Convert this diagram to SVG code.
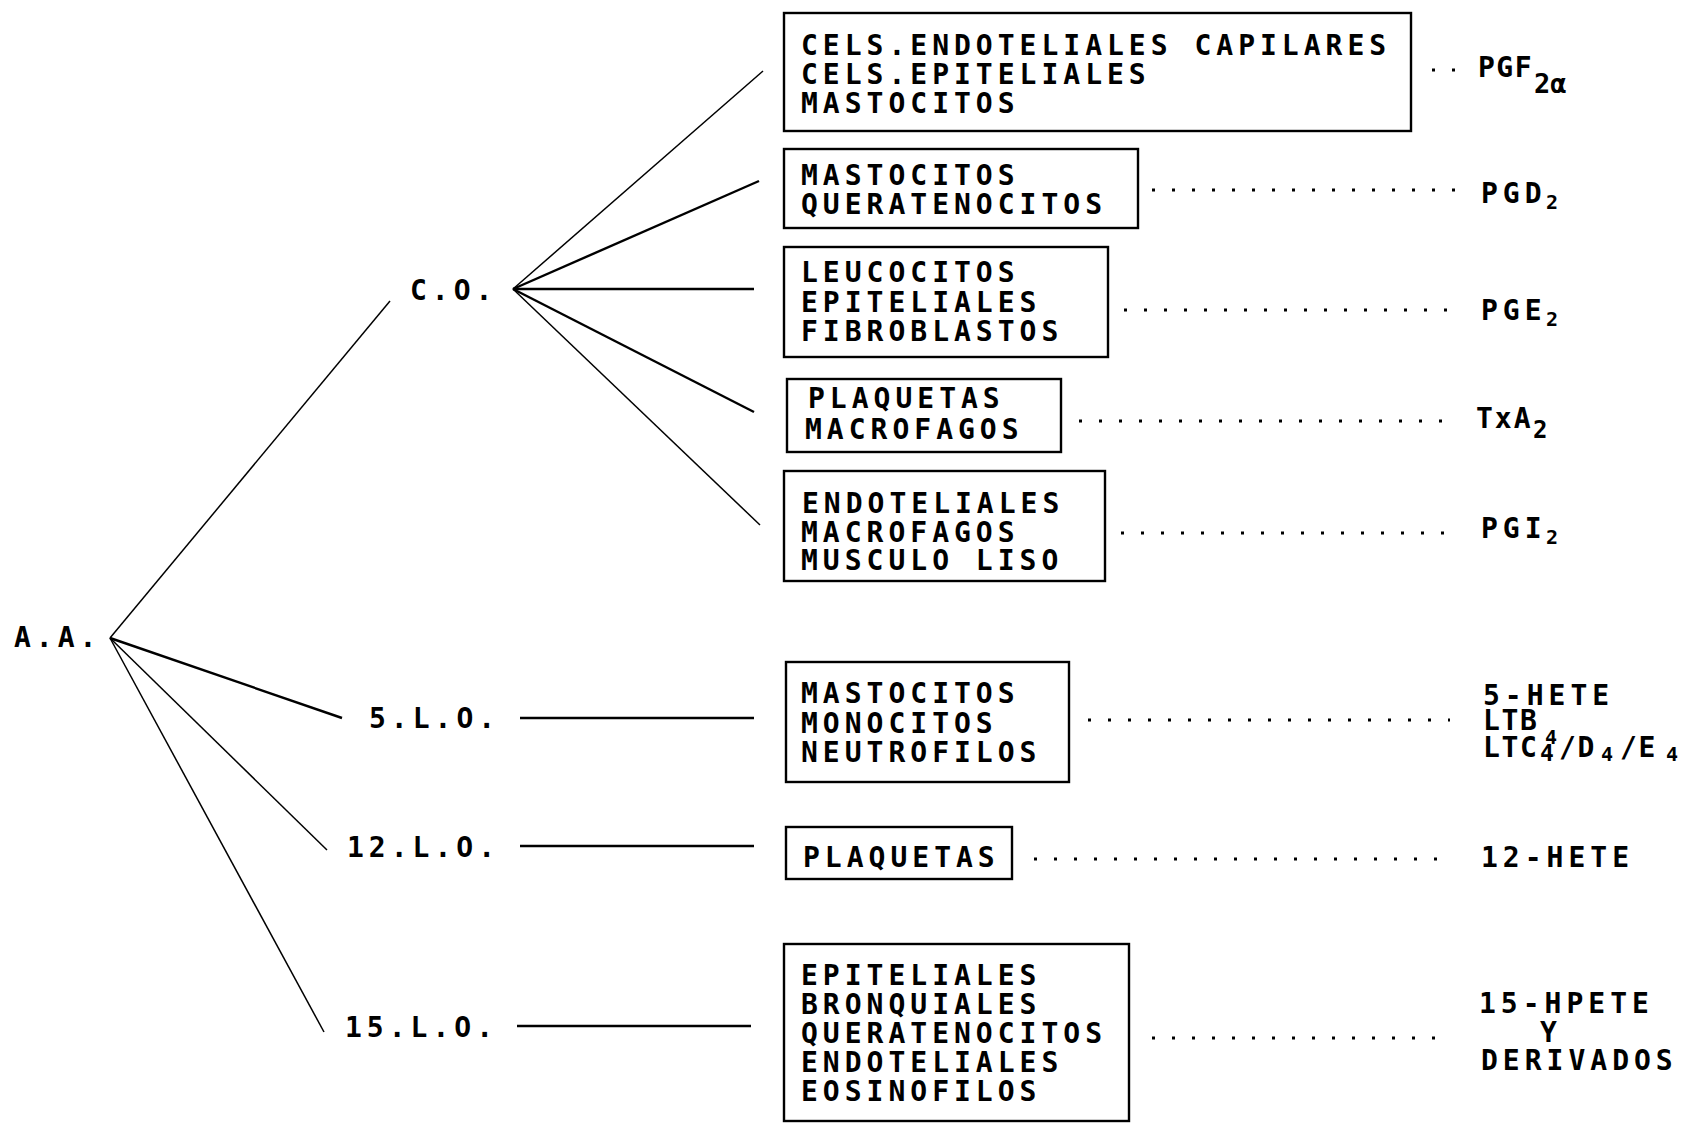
<svg xmlns="http://www.w3.org/2000/svg" width="1701" height="1124" viewBox="0 0 1701 1124">
<style>
  text { font-family: "DejaVu Sans Mono", "Liberation Mono", monospace; font-weight: bold; fill: #000; }
  .t { font-size: 28px; letter-spacing: 5px; }
  .lbl { font-size: 28px; letter-spacing: 5px; }
  .tight { letter-spacing: 1.7px; }
  .sub { font-size: 20px; letter-spacing: 0px; }
  .box { fill: #fff; stroke: #000; stroke-width: 2.4; }
  .ln { stroke: #000; stroke-width: 1.5; fill: none; }
  .lnb { stroke: #000; stroke-width: 2.4; fill: none; }
  .dot { stroke: #000; stroke-width: 3; stroke-dasharray: 3 17; fill: none; }
</style>
<rect width="1701" height="1124" fill="#fff"/>
<g id="connectors">
  <line class="ln" x1="110" y1="638" x2="390" y2="301"/>
  <line class="lnb" x1="110" y1="638" x2="342" y2="718"/>
  <line class="ln" x1="110" y1="638" x2="327" y2="850"/>
  <line class="ln" x1="110" y1="638" x2="324" y2="1032"/>
  <line class="ln" x1="513" y1="289" x2="763" y2="71"/>
  <line class="lnb" x1="513" y1="289" x2="759" y2="181"/>
  <line class="lnb" x1="513" y1="289" x2="754" y2="289"/>
  <line class="lnb" x1="513" y1="289" x2="754" y2="412"/>
  <line class="ln" x1="513" y1="289" x2="760" y2="525"/>
  <line class="lnb" x1="520" y1="718" x2="754" y2="718"/>
  <line class="lnb" x1="520" y1="846" x2="754" y2="846"/>
  <line class="lnb" x1="517" y1="1026" x2="751" y2="1026"/>
  <line class="dot" x1="1432" y1="70" x2="1460" y2="70"/>
  <line class="dot" x1="1152" y1="190" x2="1462" y2="190"/>
  <line class="dot" x1="1124" y1="310" x2="1454" y2="310"/>
  <line class="dot" x1="1079" y1="421" x2="1452" y2="421"/>
  <line class="dot" x1="1121" y1="533" x2="1452" y2="533"/>
  <line class="dot" x1="1088" y1="720" x2="1450" y2="720"/>
  <line class="dot" x1="1034" y1="859" x2="1450" y2="859"/>
  <line class="dot" x1="1152" y1="1038" x2="1450" y2="1038"/>
</g>
<g id="aa"><text class="lbl" x="14" y="647">A.A.</text></g>
<g id="co"><text class="lbl" x="410" y="300">C.O.</text></g>
<g id="lo5"><text class="lbl" x="369" y="728">5.L.O.</text></g>
<g id="lo12"><text class="lbl" x="347" y="857">12.L.O.</text></g>
<g id="lo15"><text class="lbl" x="345" y="1037">15.L.O.</text></g>
<g id="box1">
  <rect class="box" x="784" y="13" width="627" height="118"/>
  <text class="t" x="801" y="55">CELS.ENDOTELIALES CAPILARES</text>
  <text class="t" x="801" y="84">CELS.EPITELIALES</text>
  <text class="t" x="801" y="113">MASTOCITOS</text>
</g>
<g id="box2">
  <rect class="box" x="784" y="149" width="354" height="79"/>
  <text class="t" x="801" y="185">MASTOCITOS</text>
  <text class="t" x="801" y="214">QUERATENOCITOS</text>
</g>
<g id="box3">
  <rect class="box" x="784" y="247" width="324" height="110"/>
  <text class="t" x="801" y="282">LEUCOCITOS</text>
  <text class="t" x="801" y="312">EPITELIALES</text>
  <text class="t" x="801" y="341">FIBROBLASTOS</text>
</g>
<g id="box4">
  <rect class="box" x="787" y="379" width="274" height="73"/>
  <text class="t" x="808" y="408">PLAQUETAS</text>
  <text class="t" x="805" y="439">MACROFAGOS</text>
</g>
<g id="box5">
  <rect class="box" x="784" y="471" width="321" height="110"/>
  <text class="t" x="802" y="513">ENDOTELIALES</text>
  <text class="t" x="801" y="542">MACROFAGOS</text>
  <text class="t" x="801" y="570">MUSCULO LISO</text>
</g>
<g id="box6">
  <rect class="box" x="786" y="662" width="283" height="120"/>
  <text class="t" x="801" y="703">MASTOCITOS</text>
  <text class="t" x="801" y="733">MONOCITOS</text>
  <text class="t" x="801" y="762">NEUTROFILOS</text>
</g>
<g id="box7">
  <rect class="box" x="786" y="827" width="226" height="52"/>
  <text class="t" x="803" y="867">PLAQUETAS</text>
</g>
<g id="box8">
  <rect class="box" x="784" y="944" width="345" height="177"/>
  <text class="t" x="801" y="985">EPITELIALES</text>
  <text class="t" x="801" y="1014">BRONQUIALES</text>
  <text class="t" x="801" y="1043">QUERATENOCITOS</text>
  <text class="t" x="801" y="1072">ENDOTELIALES</text>
  <text class="t" x="801" y="1101">EOSINOFILOS</text>
</g>
<g id="pgf2a"><text class="lbl" x="1478" y="77" style="letter-spacing:1.5px">PGF<tspan x="1534" y="93" style="font-size:27px;letter-spacing:0px">2α</tspan></text></g>
<g id="pgd2"><text class="lbl" x="1481" y="203">PGD<tspan class="sub" x="1546" y="209">2</tspan></text></g>
<g id="pge2"><text class="lbl" x="1481" y="320">PGE<tspan class="sub" x="1546" y="326">2</tspan></text></g>
<g id="txa2"><text class="lbl" x="1476" y="428" style="letter-spacing:2px">TxA<tspan class="sub" x="1533" y="438" style="font-size:24px">2</tspan></text></g>
<g id="pgi2"><text class="lbl" x="1481" y="538">PGI<tspan class="sub" x="1546" y="544">2</tspan></text></g>
<g id="lo5prod">
  <text class="lbl" x="1483" y="705">5-HETE</text>
  <text class="lbl tight" x="1483" y="730">LTB<tspan class="sub" x="1545" y="744">4</tspan></text>
  <text class="lbl tight" x="1483" y="757">LTC<tspan class="sub" x="1540" y="761" style="font-size:23px">4</tspan><tspan x="1559" y="757">/D</tspan><tspan class="sub" x="1601" y="761">4</tspan><tspan x="1620" y="757">/E</tspan><tspan class="sub" x="1666" y="761">4</tspan></text>
</g>
<g id="hete12"><text class="lbl" x="1481" y="867">12-HETE</text></g>
<g id="hpete15">
  <text class="lbl" x="1479" y="1013">15-HPETE</text>
  <text class="lbl" x="1540" y="1042">Y</text>
  <text class="lbl" x="1481" y="1070">DERIVADOS</text>
</g>
</svg>
